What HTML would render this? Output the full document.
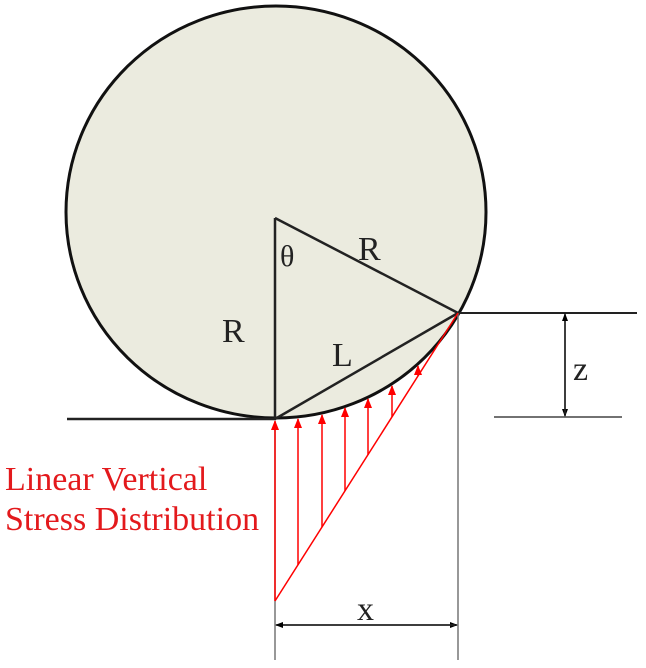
<!DOCTYPE html>
<html><head><style>html,body{margin:0;padding:0;background:#fff;}svg{display:block;}</style></head>
<body>
<svg width="646" height="668" viewBox="0 0 646 668" xmlns="http://www.w3.org/2000/svg" font-family="Liberation Serif, serif">
<defs>
<marker id="ar" markerWidth="8" markerHeight="8" refX="7" refY="4" orient="auto" markerUnits="userSpaceOnUse"><path d="M0,1 L8,4 L0,7 Z" fill="#000"/></marker>
<marker id="rr" markerWidth="10" markerHeight="10" refX="9" refY="5" orient="auto" markerUnits="userSpaceOnUse"><path d="M0,1 L10,5 L0,9 Z" fill="#f00"/></marker>
</defs>
<ellipse cx="276" cy="212" rx="210" ry="206" fill="#ebebdf" stroke="#111" stroke-width="3"/>
<line x1="67" y1="419" x2="276" y2="419" stroke="#222" stroke-width="2.5"/>
<line x1="458" y1="313" x2="637" y2="313" stroke="#222" stroke-width="2"/>
<line x1="494" y1="417" x2="622" y2="417" stroke="#444" stroke-width="1.5"/>
<line x1="275" y1="218" x2="275" y2="419" stroke="#222" stroke-width="2.5"/>
<line x1="275" y1="218" x2="458" y2="313" stroke="#222" stroke-width="2.5"/>
<line x1="275" y1="419" x2="458" y2="313" stroke="#222" stroke-width="2.5"/>
<line x1="458" y1="313" x2="458" y2="660" stroke="#777" stroke-width="1.5"/>
<line x1="275" y1="422" x2="275" y2="660" stroke="#777" stroke-width="1.5"/>
<line x1="565" y1="316" x2="565" y2="416" stroke="#222" stroke-width="1.5" marker-end="url(#ar)"/>
<line x1="565" y1="414" x2="565" y2="314" stroke="#222" stroke-width="1.5" marker-end="url(#ar)"/>
<line x1="278" y1="625" x2="457" y2="625" stroke="#222" stroke-width="1.5" marker-end="url(#ar)"/>
<line x1="455" y1="625" x2="276" y2="625" stroke="#222" stroke-width="1.5" marker-end="url(#ar)"/>
<g stroke="#f00" stroke-width="1.5" fill="none">
<line x1="275" y1="601" x2="458" y2="313"/>
<line x1="275" y1="601" x2="275" y2="421" marker-end="url(#rr)"/>
<line x1="298" y1="565" x2="298" y2="419" marker-end="url(#rr)"/>
<line x1="322" y1="527" x2="322" y2="415" marker-end="url(#rr)"/>
<line x1="345" y1="491" x2="345" y2="408" marker-end="url(#rr)"/>
<line x1="368" y1="455" x2="368" y2="399" marker-end="url(#rr)"/>
<line x1="392" y1="417" x2="392" y2="386" marker-end="url(#rr)"/>
<line x1="418" y1="376" x2="418" y2="366" marker-end="url(#rr)"/>
</g>
<g font-size="34" fill="#222">
<text x="280" y="266" font-size="30">θ</text>
<text x="358" y="260">R</text>
<text x="222" y="342">R</text>
<text x="332" y="366">L</text>
<text x="573" y="380">z</text>
<text x="357" y="620">x</text>
</g>
<g font-size="34" fill="#e3191c">
<text x="5" y="490">Linear Vertical</text>
<text x="5" y="530">Stress Distribution</text>
</g>
</svg>
</body></html>
